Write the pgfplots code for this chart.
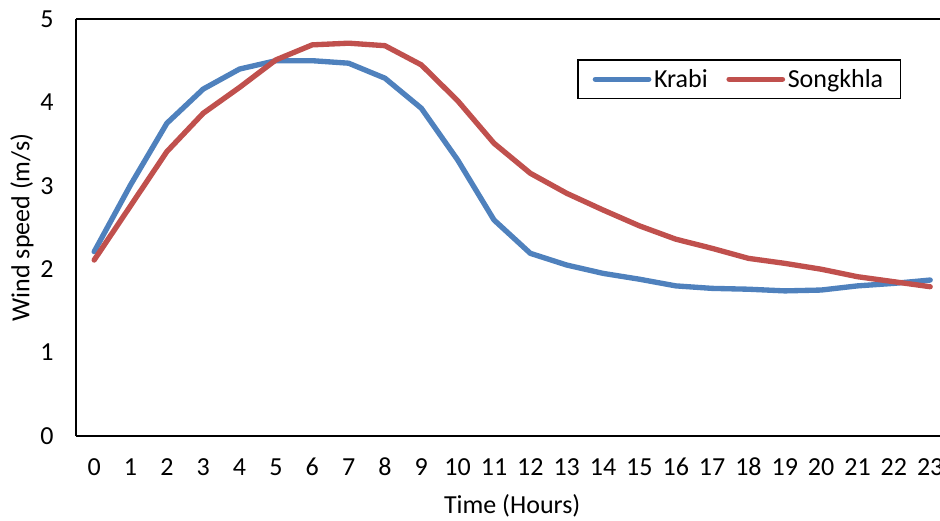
\documentclass[border=0pt]{standalone}
\usepackage{fontspec}
\setmainfont{Carlito}
\usepackage{pgfplots}
\pgfplotsset{compat=1.18}
\definecolor{kblue}{HTML}{4F81BD}
\definecolor{sred}{HTML}{C0504D}
\newcommand{\cf}{\fontsize{19.5}{23}\selectfont}
\begin{document}
\begin{tikzpicture}
\begin{axis}[
  name=ax,
  scale only axis,
  width=648pt, height=312.75pt,
  xmin=-0.5, xmax=23.27, ymin=0, ymax=5,
  axis x line*=bottom, axis y line*=left,
  axis line style={line width=1.2pt, black},
  xtick={0,...,23}, ytick={0,1,2,3,4,5},
  major tick length=0pt,
  /pgf/number format/assume math mode=true,
  every tick label/.append style={font=\cf},
  xticklabel style={anchor=center, yshift=-23.25pt},
  yticklabel style={anchor=center, xshift=-21.75pt},
  xlabel={Time (Hours)}, ylabel={Wind speed (m/s)},
  every axis x label/.style={at={(axis cs:11.5,0)}, anchor=center, yshift=-52.5pt, font=\cf},
  every axis y label/.style={at={([xshift=-40.5pt]axis description cs:0,0.5)}, anchor=center, rotate=90, font=\cf},
  legend columns=2,
  legend style={at={(axis cs:13.29,4.52)}, anchor=north west, draw=black, line width=1.2pt,
    font=\cf, inner xsep=11pt, inner ysep=5pt,
    /tikz/every even column/.append style={column sep=12pt}},
  legend image code/.code={\draw[#1, line cap=round] (0pt,0pt) -- (40pt,0pt);},
  clip=false,
]
\draw[line width=1.2pt, black] (axis cs:-0.5,5) -- (axis cs:23.27,5);
\addplot[kblue, line width=4pt, line join=round, line cap=round] coordinates {
(0,2.21)(1,3.01)(2,3.75)(3,4.16)(4,4.40)(5,4.50)(6,4.50)(7,4.47)(8,4.29)(9,3.93)
(10,3.31)(11,2.59)(12,2.19)(13,2.05)(14,1.95)(15,1.88)(16,1.80)(17,1.77)(18,1.76)
(19,1.74)(20,1.75)(21,1.80)(22,1.83)(23,1.87)};
\addlegendentry{Krabi}
\addplot[sred, line width=4pt, line join=round, line cap=round] coordinates {
(0,2.11)(1,2.76)(2,3.41)(3,3.87)(4,4.18)(5,4.51)(6,4.69)(7,4.71)(8,4.68)(9,4.45)
(10,4.02)(11,3.51)(12,3.15)(13,2.91)(14,2.71)(15,2.52)(16,2.36)(17,2.25)(18,2.13)
(19,2.07)(20,2.00)(21,1.91)(22,1.85)(23,1.79)};
\addlegendentry{Songkhla}
\end{axis}
\pgfresetboundingbox
\path ([shift={(-57pt,-63pt)}]ax.south west) rectangle ([shift={(0pt,14.25pt)}]ax.north east);
\end{tikzpicture}
\end{document}
